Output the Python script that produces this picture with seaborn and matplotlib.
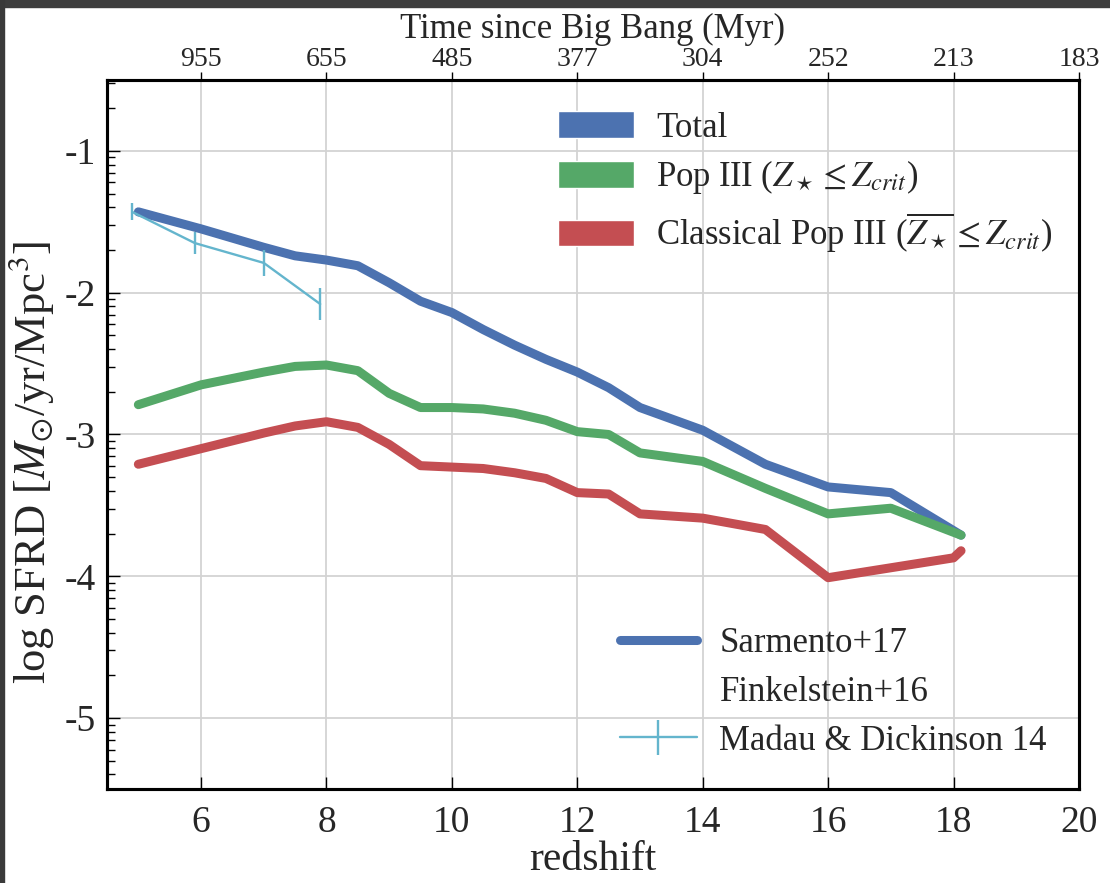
import matplotlib
matplotlib.use("Agg")
import matplotlib.pyplot as plt
import seaborn as sns
from matplotlib.lines import Line2D
from matplotlib.patches import Patch, Rectangle
import numpy as np

# redshift grid of the simulation outputs
z_sim = [5, 6, 7, 7.5, 8, 8.5, 9, 9.5, 10, 10.5, 11, 11.5, 12, 12.5, 13, 14, 15, 16, 17, 18.12]
sfrd_total = [-1.43, -1.55, -1.68, -1.74, -1.77, -1.81, -1.93, -2.06, -2.14, -2.26,
              -2.37, -2.47, -2.56, -2.67, -2.81, -2.97, -3.21, -3.37, -3.41, -3.71]
sfrd_pop3 = [-2.79, -2.65, -2.56, -2.52, -2.51, -2.55, -2.71, -2.81, -2.81, -2.82,
             -2.85, -2.90, -2.98, -3.00, -3.13, -3.19, -3.38, -3.56, -3.52, -3.71]
z_classical = [5, 6, 7, 7.5, 8, 8.5, 9, 9.5, 10, 10.5, 11, 11.5, 12, 12.5, 13, 14, 15, 16, 18, 18.12]
sfrd_classical = [-3.21, -3.10, -2.99, -2.94, -2.91, -2.95, -3.07, -3.22, -3.23, -3.24,
                  -3.27, -3.31, -3.41, -3.42, -3.56, -3.59, -3.67, -4.01, -3.87, -3.82]

# Madau & Dickinson 14 points
z_md14 = [4.9, 5.9, 7.0, 7.9]
sfrd_md14 = [-1.43, -1.65, -1.79, -2.08]
err_md14 = [0.06, 0.08, 0.09, 0.11]

z_ticks = [6, 8, 10, 12, 14, 16, 18, 20]
time_labels = ["955", "655", "485", "377", "304", "252", "213", "183"]

c_blue, c_green, c_red, c_cyan = "#4C72B0", "#55A868", "#C44E52", "#64B5CD"

sns.set_style("whitegrid")
plt.rcParams["font.family"] = ["Liberation Serif", "DejaVu Serif"]
plt.rcParams["mathtext.fontset"] = "stix"
plt.rcParams["axes.unicode_minus"] = False

fig, ax = plt.subplots(figsize=(11.1, 8.83), dpi=100)
fig.subplots_adjust(left=0.0964, right=0.972, top=0.9094, bottom=0.1065)

lw = 6.5
sns.lineplot(x=z_sim, y=sfrd_total, ax=ax, color=c_blue, lw=lw, sort=False,
             solid_capstyle="round", solid_joinstyle="round")
sns.lineplot(x=z_sim, y=sfrd_pop3, ax=ax, color=c_green, lw=lw, sort=False,
             solid_capstyle="round", solid_joinstyle="round")
sns.lineplot(x=z_classical, y=sfrd_classical, ax=ax, color=c_red, lw=lw, sort=False,
             solid_capstyle="round", solid_joinstyle="round")
md = ax.errorbar(z_md14, sfrd_md14, yerr=err_md14, color=c_cyan, lw=1.7,
                 elinewidth=1.7, capsize=0)

ax.set_xlim(4.5, 20)
ax.set_ylim(-5.5, -0.5)
ax.set_xticks(z_ticks)
ax.set_yticks([-5, -4, -3, -2, -1])
minors = [b + np.log10(k) for b in [-6, -5, -4, -3, -2, -1] for k in range(2, 10)]
ax.set_yticks([m for m in minors if -5.5 < m < -0.5], minor=True)
ax.tick_params(axis="both", which="major", labelsize=27, direction="in",
               length=9, width=1, color="black", left=True, bottom=True, pad=8)
ax.tick_params(axis="x", which="major", pad=12)
ax.tick_params(axis="y", which="minor", direction="in", length=6, width=1,
               color="black", left=True)
ax.grid(True, which="major", color="#d3d3d3", lw=1.3)
ax.grid(False, which="minor")
ax.set_xlabel("redshift", fontsize=30, labelpad=0)
ax.set_ylabel(r"log SFRD [$M_{\odot}$/yr/Mpc$^3$]", fontsize=32)
ax.yaxis.set_label_coords(-0.052, 0.461)
for s in ax.spines.values():
    s.set_color("black")
    s.set_linewidth(2.2)

ax2 = ax.twiny()
ax2.set_xlim(ax.get_xlim())
ax2.set_xticks(z_ticks)
ax2.set_xticklabels(time_labels)
ax2.grid(False)
ax2.tick_params(axis="x", labelsize=20, direction="out", length=6, width=1,
                color="black", top=True, pad=0)
ax2.set_xlabel("Time since Big Bang (Myr)", fontsize=25, labelpad=6)
for s in ax2.spines.values():
    s.set_color("black")
    s.set_linewidth(2.2)

leg1 = ax.legend(
    handles=[Patch(facecolor=c_blue, label="Total"),
             Patch(facecolor=c_green, label=r"Pop III ($Z_\star \leq Z_{crit}$)"),
             Patch(facecolor=c_red, label=r"Classical Pop III ($\overline{Z_\star} \leq Z_{crit}$)")],
    loc="upper left", bbox_to_anchor=(0.464, 0.956), frameon=False, fontsize=25,
    handlelength=2.2, handleheight=0.8, handletextpad=0.62, labelspacing=0.4,
    borderpad=0, borderaxespad=0)
ax.add_artist(leg1)

ax.legend(
    handles=[Line2D([], [], color=c_blue, lw=lw, solid_capstyle="round"),
             Line2D([], [], color="none", lw=0),
             md],
    labels=["Sarmento+17", "Finkelstein+16", "Madau & Dickinson 14"],
    loc="upper left", bbox_to_anchor=(0.528, 0.228), frameon=False, fontsize=25,
    handlelength=2.2, handletextpad=0.66, labelspacing=0.45,
    borderpad=0, borderaxespad=0)

# dark screenshot edges
fig.patches.append(Rectangle((0, 1 - 7 / 883), 1, 7 / 883, transform=fig.transFigure,
                             color="#3e3e3e", zorder=10))
fig.patches.append(Rectangle((0, 0), 4 / 1110, 1, transform=fig.transFigure,
                             color="#3a3a3a", zorder=10))

fig.savefig("out.png", dpi=100)
